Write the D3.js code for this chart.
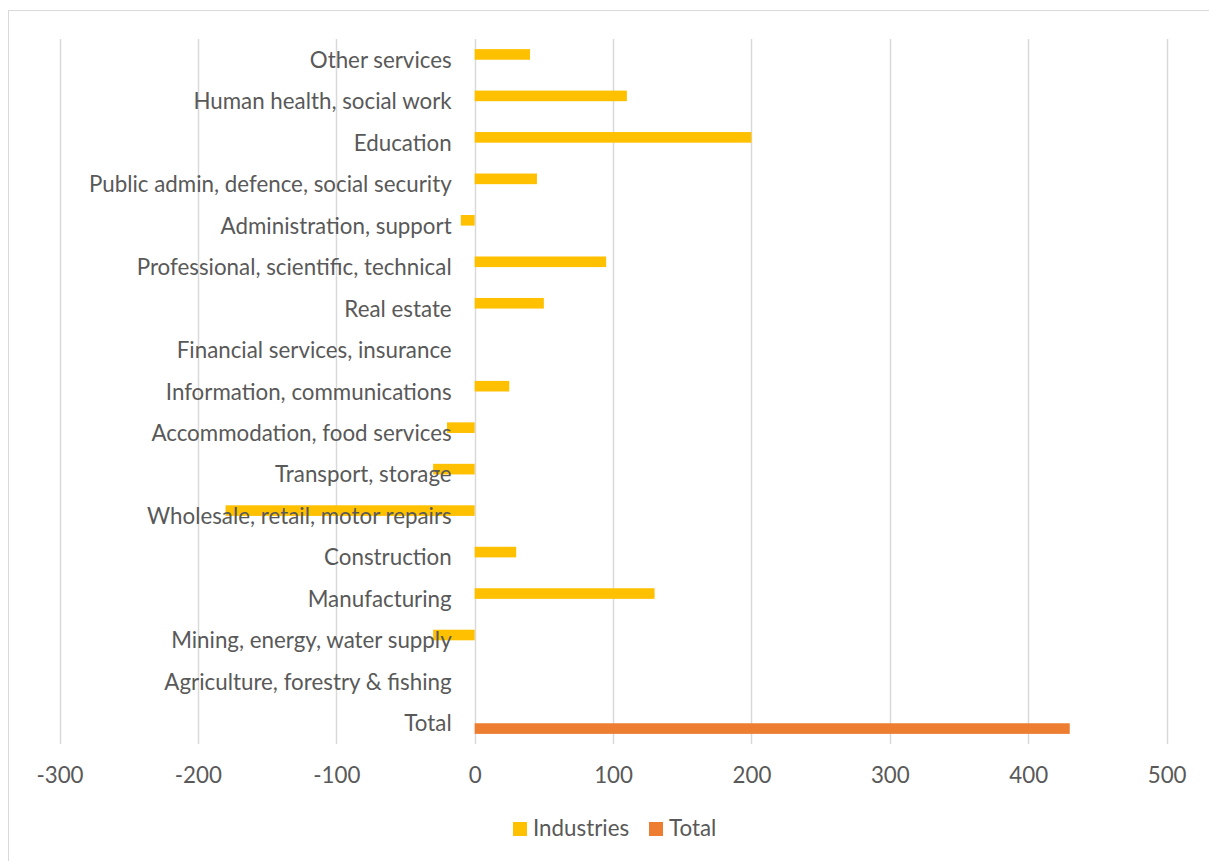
<!DOCTYPE html>
<html>
<head>
<meta charset="utf-8">
<script src="https://cdn.jsdelivr.net/npm/d3@7"></script>
<style>
  html, body { margin: 0; padding: 0; background: #fff; }
  svg { display: block; }
  text { font-family: "Lato", "Open Sans", "Liberation Sans", sans-serif; fill: #595959; }
</style>
</head>
<body>
<svg id="chart" width="1209" height="861"></svg>
<script>
// Categories listed bottom to top as in the source sheet
const categories = [
  "Total",
  "Agriculture, forestry & fishing",
  "Mining, energy, water supply",
  "Manufacturing",
  "Construction",
  "Wholesale, retail, motor repairs",
  "Transport, storage",
  "Accommodation, food services",
  "Information, communications",
  "Financial services, insurance",
  "Real estate",
  "Professional, scientific, technical",
  "Administration, support",
  "Public admin, defence, social security",
  "Education",
  "Human health, social work",
  "Other services"
];
const industries = [null, 0, -30, 130, 30, -180, -30, -20, 25, 0, 50, 95, -10, 45, 200, 110, 40];
const total      = [430, null, null, null, null, null, null, null, null, null, null, null, null, null, null, null, null];
const seriesNames = ["Industries", "Total"];
const seriesColors = ["#FFC000", "#ED7D31"];
const xTicks = [-300, -200, -100, 0, 100, 200, 300, 400, 500];

const svg = d3.select("#chart");

// chart frame
svg.append("rect").attr("x", 8.5).attr("y", 10.5).attr("width", 1220).attr("height", 880)
  .attr("fill", "#fff").attr("stroke", "#d9d9d9").attr("stroke-width", 1);

const plot = { left: 59.5, right: 1166.6, top: 39, bottom: 744 };

const x = d3.scaleLinear().domain([-300, 500]).range([plot.left, plot.right]);
// top of chart = last category
const y = d3.scaleBand().domain(categories.slice().reverse()).range([plot.top, plot.bottom]);
const barH = y.bandwidth() * 0.256;

// gridlines
svg.append("g").selectAll("line").data(xTicks).join("line")
  .attr("x1", d => Math.round(x(d)) + 0.5).attr("x2", d => Math.round(x(d)) + 0.5)
  .attr("y1", plot.top).attr("y2", plot.bottom)
  .attr("stroke", "#d9d9d9").attr("stroke-width", 1.5);

// x axis tick labels via d3 axis
const xAxis = d3.axisBottom(x).tickValues(xTicks).tickSize(0).tickPadding(0).tickFormat(d => String(d));
const gx = svg.append("g").attr("transform", `translate(0, ${plot.bottom})`).call(xAxis);
gx.select(".domain").remove();
gx.selectAll("text").attr("font-size", 20.5).attr("dy", null).attr("y", 39)
  .style("font-family", '"Lato", "Open Sans", sans-serif').attr("fill", "#595959");

// bars
const indData = categories.map((c, i) => ({ c, v: industries[i] })).filter(d => d.v !== null && d.v !== 0);
const totData = categories.map((c, i) => ({ c, v: total[i] })).filter(d => d.v !== null && d.v !== 0);

svg.append("g").selectAll("rect").data(indData).join("rect")
  .attr("x", d => x(Math.min(0, d.v)))
  .attr("width", d => Math.abs(x(d.v) - x(0)))
  .attr("y", d => y(d.c) + y.bandwidth() / 2 - barH)
  .attr("height", barH)
  .attr("fill", seriesColors[0]);

svg.append("g").selectAll("rect").data(totData).join("rect")
  .attr("x", d => x(Math.min(0, d.v)))
  .attr("width", d => Math.abs(x(d.v) - x(0)))
  .attr("y", d => y(d.c) + y.bandwidth() / 2)
  .attr("height", barH)
  .attr("fill", seriesColors[1]);

// category labels (drawn on top, like the reference)
const yAxis = d3.axisLeft(y).tickSize(0).tickPadding(0);
const gy = svg.append("g").attr("transform", `translate(${x(0) - 23}, 0)`).call(yAxis);
gy.select(".domain").remove();
const lab = gy.selectAll("text").attr("font-size", 20.5)
  .style("font-family", '"Lato", "Open Sans", sans-serif').attr("fill", "#595959")
  .attr("dy", "0.36em");

// fit label font so the longest label spans like the reference (~363px)
let longest = 0;
lab.each(function() { longest = Math.max(longest, this.getComputedTextLength()); });
const fs = 20.5 * 363 / longest;
lab.attr("font-size", fs);
gx.selectAll("text").attr("font-size", fs);

// legend
const legend = svg.append("g");
const lx = [513, 649];
seriesNames.forEach((n, i) => {
  legend.append("rect").attr("x", lx[i]).attr("y", 822).attr("width", 14).attr("height", 14).attr("fill", seriesColors[i]);
  legend.append("text").attr("x", lx[i] + 20).attr("y", 836).attr("font-size", fs).text(n);
});
</script>
</body>
</html>
